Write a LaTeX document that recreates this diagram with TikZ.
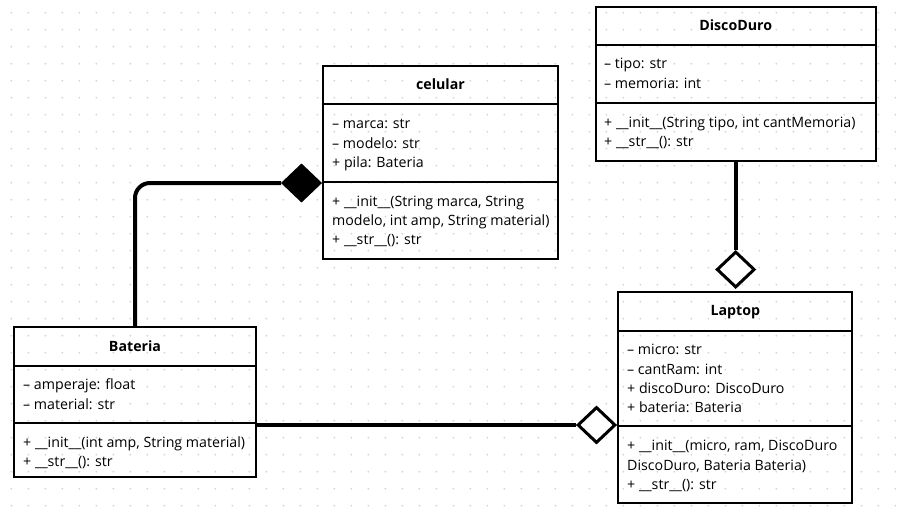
\documentclass[tikz,border=0pt]{standalone}
\usepackage{fontspec}
\setmainfont{Open Sans}
\usetikzlibrary{shapes.geometric}
\definecolor{griddot}{RGB}{208,213,224}
\tikzset{
  umlbox/.style={draw=black, line width=2pt, rectangle, inner sep=0pt, outer sep=0pt},
  divider/.style={draw=black, line width=2pt},
  classname/.style={font=\fontsize{14.2}{19.3}\selectfont\bfseries, inner sep=0pt, anchor=base},
  members/.style={font=\fontsize{14.2}{19.3}\selectfont, inner sep=0pt, anchor=north west, align=left},
  link/.style={draw=black, line width=4pt},
  compose/.style={diamond, draw=black, fill=black, line width=1pt, inner sep=0pt, aspect=1, minimum width=40pt, minimum height=38pt},
  aggregate/.style={diamond, draw=black, fill=white, line width=3pt, inner sep=0pt, aspect=1, minimum width=38pt, minimum height=36pt},
}
\begin{document}
\begin{tikzpicture}[x=1pt, y=-1pt]
\useasboundingbox (0,0) rectangle (897,515);
\fill[white] (0,0) rectangle (897,515);
% dotted background grid
\foreach \gx in {0,...,52} {
  \foreach \gy in {0,...,29} {
    \fill[griddot] (11.3+17*\gx, 12.7+17*\gy) circle (1pt);
  }
}

% class celular
\node[umlbox, minimum width=234.7pt, minimum height=192.3pt] (celular) at (440.5,162.5) {};
\draw[divider] (celular.west |- 0,103.5) -- (celular.east |- 0,103.5);
\draw[divider] (celular.west |- 0,181.7) -- (celular.east |- 0,181.7);
\node[classname] (celularname) at (440.5,89.5) {celular};
\node[members] (celularattr) at (332,115) {\strut– marca: str\\– modelo: str\\+ pila: Bateria};
\node[members] (celularops) at (332,192.5) {\strut+ \_\_init\_\_(String marca, String\\modelo, int amp, String material)\\+ \_\_str\_\_(): str};

% class DiscoDuro
\node[umlbox, minimum width=280pt, minimum height=154.3pt] (disco) at (735.7,83.8) {};
\draw[divider] (disco.west |- 0,45) -- (disco.east |- 0,45);
\draw[divider] (disco.west |- 0,103) -- (disco.east |- 0,103);
\node[classname] (disconame) at (735.7,30.5) {DiscoDuro};
\node[members] (discoattr) at (604,55) {\strut– tipo: str\\– memoria: int};
\node[members] (discoops) at (604,113.5) {\strut+ \_\_init\_\_(String tipo, int cantMemoria)\\+ \_\_str\_\_(): str};

% class Bateria
\node[umlbox, minimum width=241.4pt, minimum height=150.3pt] (bateria) at (135,401.8) {};
\draw[divider] (bateria.west |- 0,365.7) -- (bateria.east |- 0,365.7);
\draw[divider] (bateria.west |- 0,423) -- (bateria.east |- 0,423);
\node[classname] (baterianame) at (135,351.5) {Bateria};
\node[members] (bateriaattr) at (23,376) {\strut– amperaje: float\\– material: str};
\node[members] (bateriaops) at (23,433.5) {\strut+ \_\_init\_\_(int amp, String material)\\+ \_\_str\_\_(): str};

% class Laptop
\node[umlbox, minimum width=234pt, minimum height=210.4pt] (laptop) at (735.3,397.5) {};
\draw[divider] (laptop.west |- 0,331) -- (laptop.east |- 0,331);
\draw[divider] (laptop.west |- 0,426) -- (laptop.east |- 0,426);
\node[classname] (laptopname) at (735.3,315.5) {Laptop};
\node[members] (laptopattr) at (627,341) {\strut– micro: str\\– cantRam: int\\+ discoDuro: DiscoDuro\\+ bateria: Bateria};
\node[members] (laptopops) at (627,437) {\strut+ \_\_init\_\_(micro, ram, DiscoDuro\\DiscoDuro, Bateria Bateria)\\+ \_\_str\_\_(): str};

% relationship markers
\node[compose] (celdiamond) at (301.5,183) {};
\node[aggregate] (discodiamond) at (735.7,269.5) {};
\node[aggregate] (batdiamond) at (596.5,425) {};

% connectors
\draw[link, rounded corners=15pt] (bateria.north) |- (celdiamond.west);
\draw[link] (disco.south) -- (discodiamond.north);
\draw[link] (bateria.east |- batdiamond) -- (batdiamond.west);
\end{tikzpicture}
\end{document}
